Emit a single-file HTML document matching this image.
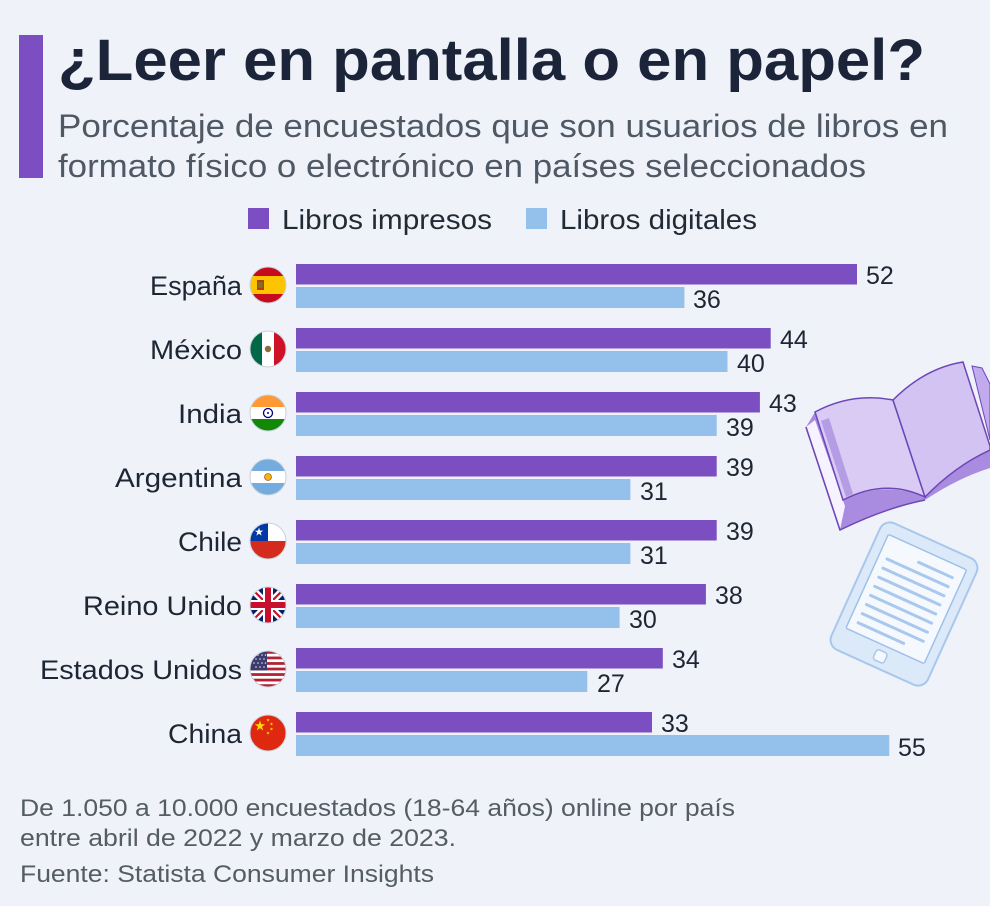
<!DOCTYPE html>
<html><head><meta charset="utf-8"><style>
html,body{margin:0;padding:0;background:#eff3f9;}
svg{display:block;}
</style></head><body>
<svg width="990" height="906" viewBox="0 0 990 906" xmlns="http://www.w3.org/2000/svg" font-family="'Liberation Sans', sans-serif">
<defs>
<clipPath id="fc"><circle cx="0" cy="0" r="18"/></clipPath>
<polygon id="star" points="0,-1 0.2245,-0.309 0.951,-0.309 0.363,0.118 0.588,0.809 0,0.382 -0.588,0.809 -0.363,0.118 -0.951,-0.309 -0.2245,-0.309"/>
</defs>
<rect width="990" height="906" fill="#eff3f9"/>
<rect x="19" y="35" width="24" height="143" fill="#7b4fc1"/>
<text x="58" y="80" font-size="58" font-weight="bold" fill="#1b2439" textLength="867" lengthAdjust="spacingAndGlyphs">¿Leer en pantalla o en papel?</text>
<text x="58" y="137" font-size="32" fill="#4f5965" textLength="890" lengthAdjust="spacingAndGlyphs">Porcentaje de encuestados que son usuarios de libros en</text>
<text x="58" y="177" font-size="32" fill="#4f5965" textLength="808" lengthAdjust="spacingAndGlyphs">formato físico o electrónico en países seleccionados</text>

<rect x="248" y="208" width="21" height="21" fill="#7b4fc1"/>
<text x="282" y="229" font-size="28" fill="#222a36" textLength="210" lengthAdjust="spacingAndGlyphs">Libros impresos</text>
<rect x="526" y="208" width="21" height="21" fill="#93c1ec"/>
<text x="560" y="229" font-size="28" fill="#222a36" textLength="197" lengthAdjust="spacingAndGlyphs">Libros digitales</text>

<!-- open book -->
<g>
  <path d="M806,427 L840,530 Q885,508 925,500 Q958,478 990,468 L990,448 Q955,462 925,497 Q885,480 843,500 L815,412 Z" fill="#a98be0"/>
  <path d="M806,427 L840,530 Q885,508 925,500" fill="none" stroke="#6d47b8" stroke-width="1.5"/>
  <path d="M806,427 L815,420 L845,506 L840,530 Z" fill="#f6f2ff"/>
  <path d="M806,427 L840,530" fill="none" stroke="#6d47b8" stroke-width="1.5"/>
  <path d="M815,412 Q852,392 893,400 L925,497 Q885,478 843,500 Z" fill="#d9cbf3" stroke="#6d47b8" stroke-width="1.5"/>
  <path d="M821,421 L829,418 L853,494 L846,497 Z" fill="#b59de6"/>
  <path d="M972,366 L982,368 L990,384 L990,440 Z" fill="#c1aaee" stroke="#6d47b8" stroke-width="1"/>
  <path d="M893,400 Q925,368 963,362 L990,446 L990,450 Q955,466 925,497 Z" fill="#d3c3f2" stroke="#6d47b8" stroke-width="1.5"/>
</g>
<!-- tablet -->
<g transform="rotate(24.4 904 604)">
  <rect x="851" y="534.5" width="106" height="139" rx="11" fill="#dce9f8" stroke="#a8c7ec" stroke-width="2"/>
  <rect x="861" y="547" width="86" height="103" rx="2" fill="#f5f9fe" stroke="#9fc1e9" stroke-width="1.5"/>
  <g stroke="#a9c8ee" stroke-width="3" stroke-linecap="round">
    <line x1="900" y1="560" x2="937" y2="560"/>
    <line x1="870" y1="570" x2="937" y2="570"/>
    <line x1="870" y1="580" x2="937" y2="580"/>
    <line x1="870" y1="590" x2="937" y2="590"/>
    <line x1="870" y1="600" x2="937" y2="600"/>
    <line x1="870" y1="610" x2="937" y2="610"/>
    <line x1="870" y1="620" x2="937" y2="620"/>
    <line x1="870" y1="630" x2="937" y2="630"/>
    <line x1="870" y1="640" x2="920" y2="640"/>
  </g>
  <rect x="898" y="656" width="12" height="11" rx="3" fill="#f5f9fe" stroke="#a8c7ec" stroke-width="1.5"/>
</g>

<!-- country labels -->
<g font-size="27" fill="#1e2533" text-anchor="end">
<text x="242" y="295" textLength="92" lengthAdjust="spacingAndGlyphs">España</text>
<text x="242" y="359" textLength="92" lengthAdjust="spacingAndGlyphs">México</text>
<text x="242" y="423" textLength="64" lengthAdjust="spacingAndGlyphs">India</text>
<text x="242" y="487" textLength="127" lengthAdjust="spacingAndGlyphs">Argentina</text>
<text x="242" y="551" textLength="64" lengthAdjust="spacingAndGlyphs">Chile</text>
<text x="242" y="615" textLength="159" lengthAdjust="spacingAndGlyphs">Reino Unido</text>
<text x="242" y="679" textLength="202" lengthAdjust="spacingAndGlyphs">Estados Unidos</text>
<text x="242" y="743" textLength="74" lengthAdjust="spacingAndGlyphs">China</text>
</g>

<!-- bars -->
<g>
<rect x="296" y="264" width="561" height="20.5" fill="#7b4fc1"/>
<rect x="296" y="287" width="388.4" height="21" fill="#93c1ec"/>
<rect x="296" y="328" width="474.7" height="20.5" fill="#7b4fc1"/>
<rect x="296" y="351" width="431.5" height="21" fill="#93c1ec"/>
<rect x="296" y="392" width="463.9" height="20.5" fill="#7b4fc1"/>
<rect x="296" y="415" width="420.7" height="21" fill="#93c1ec"/>
<rect x="296" y="456" width="420.7" height="20.5" fill="#7b4fc1"/>
<rect x="296" y="479" width="334.4" height="21" fill="#93c1ec"/>
<rect x="296" y="520" width="420.7" height="20.5" fill="#7b4fc1"/>
<rect x="296" y="543" width="334.4" height="21" fill="#93c1ec"/>
<rect x="296" y="584" width="409.9" height="20.5" fill="#7b4fc1"/>
<rect x="296" y="607" width="323.6" height="21" fill="#93c1ec"/>
<rect x="296" y="648" width="366.8" height="20.5" fill="#7b4fc1"/>
<rect x="296" y="671" width="291.3" height="21" fill="#93c1ec"/>
<rect x="296" y="712" width="356" height="20.5" fill="#7b4fc1"/>
<rect x="296" y="735" width="593.3" height="21" fill="#93c1ec"/>
</g>
<g font-size="25" fill="#1e2533">
<text x="866" y="284">52</text><text x="693" y="308">36</text>
<text x="780" y="348">44</text><text x="737" y="372">40</text>
<text x="769" y="412">43</text><text x="726" y="436">39</text>
<text x="726" y="476">39</text><text x="640" y="500">31</text>
<text x="726" y="540">39</text><text x="640" y="564">31</text>
<text x="715" y="604">38</text><text x="629" y="628">30</text>
<text x="672" y="668">34</text><text x="597" y="692">27</text>
<text x="661" y="732">33</text><text x="898" y="756">55</text>
</g>

<!-- flags -->
<g transform="translate(268,285)">
 <g clip-path="url(#fc)">
  <rect x="-18" y="-18" width="36" height="36" fill="#c60b1e"/>
  <rect x="-18" y="-9" width="36" height="18" fill="#ffc400"/>
  <rect x="-11" y="-5" width="7" height="10" fill="#ad1519" opacity="0.8"/>
  <rect x="-10" y="-3" width="5" height="6" fill="#8a6a1f"/>
 </g>
 <circle r="18" fill="none" stroke="#c9d0da" stroke-width="1"/>
</g>
<g transform="translate(268,349)">
 <g clip-path="url(#fc)">
  <rect x="-18" y="-18" width="12" height="36" fill="#006847"/>
  <rect x="-6" y="-18" width="12" height="36" fill="#ffffff"/>
  <rect x="6" y="-18" width="12" height="36" fill="#ce1126"/>
  <circle r="3.2" fill="#8c6a3a"/>
 </g>
 <circle r="18" fill="none" stroke="#c9d0da" stroke-width="1"/>
</g>
<g transform="translate(268,413)">
 <g clip-path="url(#fc)">
  <rect x="-18" y="-18" width="36" height="12" fill="#ff9933"/>
  <rect x="-18" y="-6" width="36" height="12" fill="#ffffff"/>
  <rect x="-18" y="6" width="36" height="12" fill="#138808"/>
  <circle r="4.5" fill="none" stroke="#000080" stroke-width="1.3"/>
  <circle r="1" fill="#000080"/>
 </g>
 <circle r="18" fill="none" stroke="#c9d0da" stroke-width="1"/>
</g>
<g transform="translate(268,477)">
 <g clip-path="url(#fc)">
  <rect x="-18" y="-18" width="36" height="36" fill="#74acdf"/>
  <rect x="-18" y="-6" width="36" height="12" fill="#ffffff"/>
  <circle r="3.5" fill="#f6b40e" stroke="#85340a" stroke-width="0.6"/>
 </g>
 <circle r="18" fill="none" stroke="#c9d0da" stroke-width="1"/>
</g>
<g transform="translate(268,541)">
 <g clip-path="url(#fc)">
  <rect x="-18" y="-18" width="36" height="18" fill="#ffffff"/>
  <rect x="-18" y="-18" width="18" height="18" fill="#0039a6"/>
  <rect x="-18" y="0" width="36" height="18" fill="#d52b1e"/>
  <use href="#star" transform="translate(-9,-9) scale(4.5)" fill="#ffffff"/>
 </g>
 <circle r="18" fill="none" stroke="#c9d0da" stroke-width="1"/>
</g>
<g transform="translate(268,605)">
 <g clip-path="url(#fc)">
  <rect x="-18" y="-18" width="36" height="36" fill="#012169"/>
  <path d="M-18,-18 L18,18 M18,-18 L-18,18" stroke="#ffffff" stroke-width="7"/>
  <path d="M-18,-18 L18,18 M18,-18 L-18,18" stroke="#c8102e" stroke-width="2.2"/>
  <path d="M0,-18 V18 M-18,0 H18" stroke="#ffffff" stroke-width="10"/>
  <path d="M0,-18 V18 M-18,0 H18" stroke="#c8102e" stroke-width="6"/>
 </g>
 <circle r="18" fill="none" stroke="#c9d0da" stroke-width="1"/>
</g>
<g transform="translate(268,669)">
 <g clip-path="url(#fc)">
  <rect x="-18" y="-18" width="36" height="36" fill="#ffffff"/>
  <g fill="#b22234">
   <rect x="-18" y="-18" width="36" height="2.77"/>
   <rect x="-18" y="-12.46" width="36" height="2.77"/>
   <rect x="-18" y="-6.92" width="36" height="2.77"/>
   <rect x="-18" y="-1.38" width="36" height="2.77"/>
   <rect x="-18" y="4.15" width="36" height="2.77"/>
   <rect x="-18" y="9.69" width="36" height="2.77"/>
   <rect x="-18" y="15.23" width="36" height="2.77"/>
  </g>
  <rect x="-18" y="-18" width="17" height="19.4" fill="#3c3b6e"/>
  <g fill="#ffffff" opacity="0.85">
   <circle cx="-14" cy="-14" r="0.8"/><circle cx="-10" cy="-14" r="0.8"/><circle cx="-6" cy="-14" r="0.8"/><circle cx="-2.5" cy="-14" r="0.8"/>
   <circle cx="-12" cy="-10" r="0.8"/><circle cx="-8" cy="-10" r="0.8"/><circle cx="-4" cy="-10" r="0.8"/>
   <circle cx="-14" cy="-6" r="0.8"/><circle cx="-10" cy="-6" r="0.8"/><circle cx="-6" cy="-6" r="0.8"/><circle cx="-2.5" cy="-6" r="0.8"/>
   <circle cx="-12" cy="-2" r="0.8"/><circle cx="-8" cy="-2" r="0.8"/><circle cx="-4" cy="-2" r="0.8"/>
  </g>
 </g>
 <circle r="18" fill="none" stroke="#c9d0da" stroke-width="1"/>
</g>
<g transform="translate(268,733)">
 <g clip-path="url(#fc)">
  <rect x="-18" y="-18" width="36" height="36" fill="#de2910"/>
  <use href="#star" transform="translate(-8,-7) scale(5.5)" fill="#ffde00"/>
  <use href="#star" transform="translate(0,-13) scale(1.8)" fill="#ffde00"/>
  <use href="#star" transform="translate(3.5,-9) scale(1.8)" fill="#ffde00"/>
  <use href="#star" transform="translate(3.5,-4) scale(1.8)" fill="#ffde00"/>
  <use href="#star" transform="translate(0,0) scale(1.8)" fill="#ffde00"/>
 </g>
 <circle r="18" fill="none" stroke="#c9d0da" stroke-width="1"/>
</g>

<!-- footer -->
<g font-size="24" fill="#545c66">
<text x="20" y="816" textLength="715" lengthAdjust="spacingAndGlyphs">De 1.050 a 10.000 encuestados (18-64 años) online por país</text>
<text x="20" y="846" textLength="436" lengthAdjust="spacingAndGlyphs">entre abril de 2022 y marzo de 2023.</text>
<text x="20" y="882" textLength="414" lengthAdjust="spacingAndGlyphs">Fuente: Statista Consumer Insights</text>
</g>
</svg>
</body></html>
